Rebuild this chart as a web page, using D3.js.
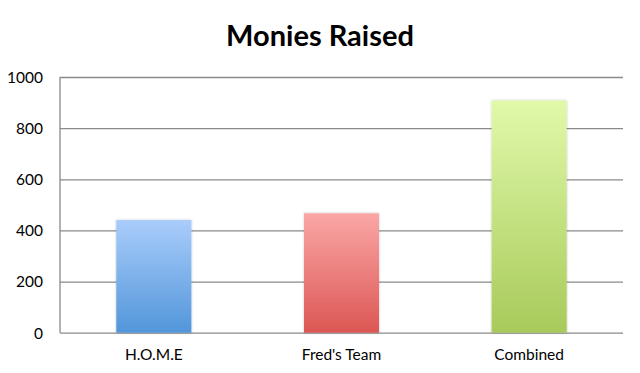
<!DOCTYPE html>
<html>
<head>
<meta charset="utf-8">
<script src="https://cdn.jsdelivr.net/npm/d3@7"></script>
<style>
  body { margin: 0; background: #fff; }
  svg { display: block; }
  text { font-family: Lato, "Open Sans", sans-serif; fill: #000; }
</style>
</head>
<body>
<svg id="chart" width="640" height="373"></svg>
<script>
// data
var categories = ["H.O.M.E", "Fred's Team", "Combined"];
var values = [441, 467, 908];
var yTicks = [0, 200, 400, 600, 800, 1000];

// bar gradients (top, bottom)
var topColors = ["#aacdfb", "#faa7a6", "#e1f9aa"];
var bottomColors = ["#5296da", "#dc5754", "#a8ca5a"];

var svg = d3.select("#chart");
const width = 640, height = 373;
const padding = { top: 77, right: 17, bottom: 40, left: 60 };

var defs = svg.append("defs");
categories.forEach(function (c, i) {
	var lg = defs.append("linearGradient")
		.attr("id", "grad" + i)
		.attr("x1", 0).attr("y1", 0).attr("x2", 0).attr("y2", 1);
	lg.append("stop").attr("offset", "0%").attr("stop-color", topColors[i]);
	lg.append("stop").attr("offset", "100%").attr("stop-color", bottomColors[i]);
});
var f = defs.append("filter").attr("id", "shadow")
	.attr("x", "-10%").attr("y", "-5%").attr("width", "120%").attr("height", "110%");
f.append("feDropShadow").attr("dx", 0).attr("dy", 0).attr("stdDeviation", 1.2)
	.attr("flood-color", "#000").attr("flood-opacity", 0.25);

// scales
var x = d3.scaleBand()
	.domain(categories)
	.range([padding.left, width - padding.right])
	.paddingInner(0.6)
	.paddingOuter(0.3);

var y = d3.scaleLinear()
	.domain([0, 1000])
	.range([height - padding.bottom - 0.3, padding.top]);

// title
svg.append("text")
	.attr("x", 320)
	.attr("y", 46)
	.attr("text-anchor", "middle")
	.attr("font-size", "29px")
	.attr("font-weight", "bold")
	.text("Monies Raised");

// gridlines + y axis labels
var yAxis = svg.append("g")
	.attr("transform", `translate(${padding.left},0)`)
	.call(d3.axisLeft(y).tickValues(yTicks).tickFormat(d3.format("d"))
		.tickSize(-(width - padding.left - padding.right)).tickPadding(17));
yAxis.select(".domain").remove();
yAxis.selectAll(".tick line").attr("stroke", "#8a8a8a").attr("stroke-width", 1.3);
yAxis.selectAll(".tick text")
	.attr("font-size", "15.5px")
	.attr("font-family", "Lato, 'Open Sans', sans-serif")
	.attr("dy", "0.35em");

// left axis line
svg.append("line")
	.attr("x1", padding.left).attr("x2", padding.left)
	.attr("y1", y(1000)).attr("y2", y(0))
	.attr("stroke", "#8a8a8a").attr("stroke-width", 1.3);

// bars
svg.selectAll("rect.bar")
	.data(values)
	.enter()
	.append("rect")
	.attr("class", "bar")
	.attr("x", (_, i) => x(categories[i]))
	.attr("y", d => y(d))
	.attr("width", x.bandwidth())
	.attr("height", d => y(0) - y(d))
	.attr("fill", (_, i) => `url(#grad${i})`)
	.attr("filter", "url(#shadow)");

// category labels
svg.selectAll("text.cat")
	.data(categories)
	.enter()
	.append("text")
	.attr("class", "cat")
	.attr("x", d => x(d) + x.bandwidth() / 2)
	.attr("y", 360)
	.attr("text-anchor", "middle")
	.attr("font-size", "15.5px")
	.text(d => d);
</script>
</body>
</html>
